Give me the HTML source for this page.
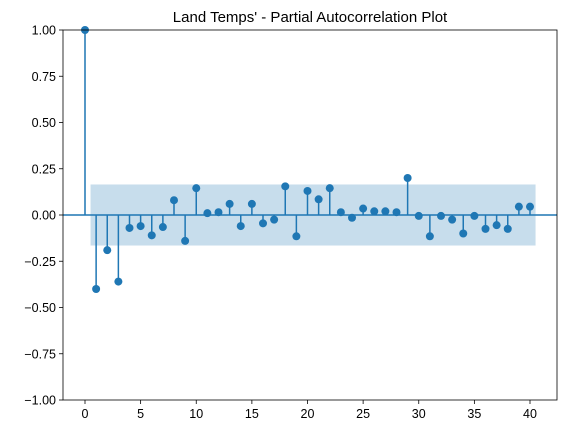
<!DOCTYPE html>
<html><head><meta charset="utf-8"><style>
body{margin:0;background:#fff;width:568px;height:433px;overflow:hidden}
text{font-family:"Liberation Sans",sans-serif;fill:#000}
</style></head><body>
<svg id="c" width="568" height="433">
<text x="310" y="22" font-size="15" text-anchor="middle">Land Temps' - Partial Autocorrelation Plot</text>
<g id="plot"></g>
</svg>
<script>
const lags=[0,1,2,3,4,5,6,7,8,9,10,11,12,13,14,15,16,17,18,19,20,21,22,23,24,25,26,27,28,29,30,31,32,33,34,35,36,37,38,39,40];
const pacf=[1.0,-0.40,-0.19,-0.36,-0.07,-0.06,-0.11,-0.065,0.08,-0.14,0.145,0.01,0.015,0.06,-0.06,0.06,-0.045,-0.025,0.155,-0.115,0.13,0.085,0.145,0.015,-0.015,0.035,0.02,0.02,0.015,0.2,-0.005,-0.115,-0.005,-0.025,-0.1,-0.005,-0.075,-0.055,-0.075,0.045,0.045];
const confBound=[0.165];
const yTicks=[-1.00,-0.75,-0.50,-0.25,0.00,0.25,0.50,0.75,1.00];
const xTicks=[0,5,10,15,20,25,30,35,40];
const L=63,R=557,T=30,B=400;
const xs=v=>85+v*(530-85)/40;
const ys=v=>215-v*185;
const g=document.getElementById('plot');
const NS='http://www.w3.org/2000/svg';
function mk(t,a){const e=document.createElementNS(NS,t);for(const k in a)e.setAttribute(k,a[k]);g.appendChild(e);return e;}
let e;
e=mk('rect',{x:xs(0.5),y:ys(confBound[0]),width:xs(40.5)-xs(0.5),height:ys(-confBound[0])-ys(confBound[0]),fill:'#1f77b4','fill-opacity':0.25});


e=mk('line',{x1:L,x2:R,y1:ys(0),y2:ys(0),stroke:'#1f77b4','stroke-width':1.5});


lags.forEach((l,i)=>{
 let s=mk('line',{x1:xs(l),x2:xs(l),y1:ys(0),y2:ys(pacf[i]),stroke:'#1f77b4','stroke-width':1.5});
 
 
 let c=mk('circle',{cx:xs(l),cy:ys(pacf[i]),r:4,fill:'#1f77b4'});
 
 
});
e=mk('rect',{x:L,y:T,width:R-L,height:B-T,fill:'none',stroke:'#000','stroke-width':0.8});


yTicks.forEach(v=>{
 mk('line',{x1:L-4,x2:L,y1:ys(v),y2:ys(v),stroke:'#000','stroke-width':0.8});
 let t=mk('text',{x:L-7,y:ys(v)+4.5,'font-size':12.5,'text-anchor':'end'});
 t.textContent=(v<0?'\u2212':'')+Math.abs(v).toFixed(2);
 
 
});
xTicks.forEach(v=>{
 mk('line',{x1:xs(v),x2:xs(v),y1:B,y2:B+4,stroke:'#000','stroke-width':0.8});
 let t=mk('text',{x:xs(v),y:B+18,'font-size':12.5,'text-anchor':'middle'});
 t.textContent=v;
 
 
});
</script>
</body></html>
